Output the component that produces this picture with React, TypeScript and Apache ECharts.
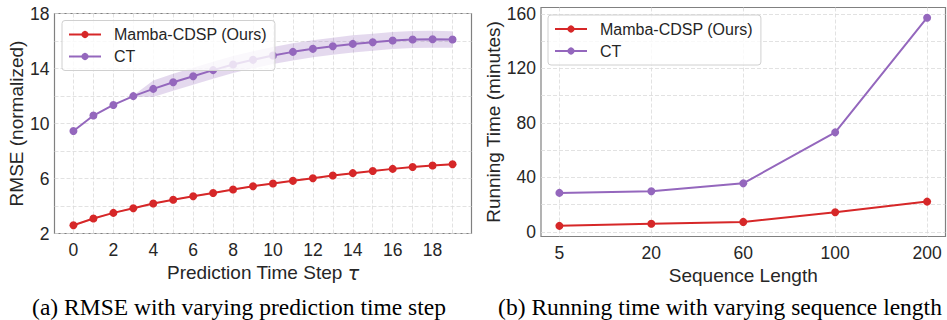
import React, { useEffect, useRef } from "react";
import * as echarts from "echarts";

// ---- Data ----
const steps = [0, 1, 2, 3, 4, 5, 6, 7, 8, 9, 10, 11, 12, 13, 14, 15, 16, 17, 18, 19];
const stepLabelTicks = [0, 2, 4, 6, 8, 10, 12, 14, 16, 18];
const rmseGridTicks = [2, 4, 6, 8, 10, 12, 14, 16, 18];
const rmseLabelTicks = [2, 6, 10, 14, 18];
const mambaRmse = [2.6, 3.09, 3.5, 3.84, 4.18, 4.45, 4.71, 4.95, 5.2, 5.44, 5.64, 5.83, 6.02, 6.22, 6.39, 6.55, 6.7, 6.84, 6.94, 7.04];
const mambaRmseStd = [0.05, 0.05, 0.05, 0.05, 0.05, 0.05, 0.05, 0.05, 0.05, 0.05, 0.05, 0.05, 0.05, 0.05, 0.05, 0.05, 0.05, 0.05, 0.05, 0.05];
const ctRmse = [9.46, 10.58, 11.35, 11.99, 12.52, 13.0, 13.44, 13.88, 14.29, 14.63, 14.95, 15.21, 15.43, 15.62, 15.79, 15.91, 16.04, 16.11, 16.13, 16.11];
const ctRmseStd = [0, 0, 0, 0.04, 0.6, 0.62, 0.62, 0.62, 0.62, 0.62, 0.62, 0.62, 0.62, 0.62, 0.62, 0.62, 0.62, 0.62, 0.62, 0.6];

const seqLengths = ["5", "20", "60", "100", "200"];
const seqIndex = [0, 1, 2, 3, 4];
const timeGridTicks = [0, 20, 40, 60, 80, 100, 120, 140, 160];
const timeLabelTicks = [0, 40, 80, 120, 160];
const mambaTime = [4.4, 5.9, 7.3, 14.4, 22.2];
const ctTime = [28.6, 29.8, 35.6, 73.0, 157.1];

const seriesNames = ["Mamba-CDSP (Ours)", "CT"];
const captions = ["(a) RMSE with varying prediction time step", "(b) Running time with varying sequence length"];

const RED = "#d62728";
const PURPLE = "#9467bd";
const SANS = '"Liberation Sans", Arial, sans-serif';
const TEXT = "#262626";
const CAPTION_FONT = '23.5px "Liberation Serif", "Times New Roman", serif';

function bandSeries(xAxisIndex: number, xs: number[], mean: number[], std: number[], fill: string) {
  return {
    type: "custom",
    xAxisIndex,
    yAxisIndex: xAxisIndex,
    silent: true,
    clip: true,
    z: 1,
    data: [[xs[0], mean[0]]],
    renderItem: (params: any, api: any) => {
      const upper = xs.map((x, i) => api.coord([x, mean[i] + std[i]]));
      const lower = xs.map((x, i) => api.coord([x, mean[i] - std[i]])).reverse();
      return {
        type: "polygon",
        shape: { points: upper.concat(lower) },
        style: { fill },
      };
    },
  };
}

const gridLine = { show: true, lineStyle: { color: "#dadada", width: 0.8, type: [4, 2] as any } };
const tickLabel = (margin: number) => ({ fontSize: 17.5, color: TEXT, fontFamily: SANS, margin });
const nameStyle = { fontSize: 19, color: TEXT, fontFamily: SANS };

function lineSeries(name: string, color: string, idx: number, data: number[][]) {
  return {
    type: "line",
    name,
    xAxisIndex: idx,
    yAxisIndex: idx,
    data,
    symbol: "circle",
    symbolSize: 8,
    z: 2,
    itemStyle: { color },
    lineStyle: { color, width: 2 },
  };
}

function legendAt(left: number, top: number) {
  return {
    data: seriesNames,
    orient: "vertical",
    left,
    top,
    padding: [5, 8, 5, 6],
    itemWidth: 32,
    itemHeight: 9,
    itemGap: 4,
    backgroundColor: "rgba(255,255,255,0.8)",
    borderColor: "#d0d0d0",
    borderWidth: 1,
    borderRadius: 3,
    textStyle: { fontSize: 16, color: TEXT, fontFamily: SANS, lineHeight: 18, padding: [0, 0, 0, 8] },
  };
}

export default function App() {
  const ref = useRef<HTMLDivElement>(null);
  useEffect(() => {
    if (!ref.current) return;
    const chart = echarts.init(ref.current, undefined, { renderer: "svg" });
    const option: any = {
      animation: false,
      backgroundColor: "#ffffff",
      grid: [
        { left: 54.5, top: 13.5, width: 417, height: 220, show: true, borderColor: "#808080", borderWidth: 1.2, containLabel: false },
        { left: 541, top: 7.5, width: 404.5, height: 229, show: true, borderColor: "#808080", borderWidth: 1.2, containLabel: false },
      ],
      legend: [legendAt(62, 20.5), legendAt(548, 15)],
      xAxis: [
        {
          type: "value",
          gridIndex: 0,
          min: -0.95,
          max: 19.95,
          axisLine: { show: false },
          axisTick: { show: false, customValues: steps },
          axisLabel: { ...tickLabel(7), customValues: stepLabelTicks },
          splitLine: gridLine,
          name: "Prediction Time Step {i|τ}",
          nameLocation: "middle",
          nameGap: 23,
          nameTextStyle: { ...nameStyle, rich: { i: { ...nameStyle, fontStyle: "italic", fontFamily: '"DejaVu Sans", sans-serif' } } },
        },
        {
          type: "value",
          gridIndex: 1,
          min: -0.2,
          max: 4.2,
          axisLine: { show: false },
          axisTick: { show: false, customValues: seqIndex },
          axisLabel: { ...tickLabel(7), customValues: seqIndex, formatter: (v: number) => seqLengths[Math.round(v)] },
          splitLine: gridLine,
          name: "Sequence Length",
          nameLocation: "middle",
          nameGap: 24,
          nameTextStyle: nameStyle,
        },
      ],
      yAxis: [
        {
          type: "value",
          gridIndex: 0,
          min: 2,
          max: 18,
          axisLine: { show: false },
          axisTick: { show: false, customValues: rmseGridTicks },
          axisLabel: { ...tickLabel(5), customValues: rmseLabelTicks },
          splitLine: gridLine,
          name: "RMSE (normalized)",
          nameLocation: "middle",
          nameGap: 27,
          nameTextStyle: nameStyle,
        },
        {
          type: "value",
          gridIndex: 1,
          min: -3.4,
          max: 164.6,
          axisLine: { show: false },
          axisTick: { show: false, customValues: timeGridTicks },
          axisLabel: { ...tickLabel(5), customValues: timeLabelTicks },
          splitLine: gridLine,
          name: "Running Time (minutes)",
          nameLocation: "middle",
          nameGap: 37,
          nameTextStyle: nameStyle,
        },
      ],
      series: [
        bandSeries(0, steps, mambaRmse, mambaRmseStd, "rgba(214,39,40,0.2)"),
        bandSeries(0, steps, ctRmse, ctRmseStd, "rgba(148,103,189,0.25)"),
        lineSeries(seriesNames[0], RED, 0, steps.map((s, i) => [s, mambaRmse[i]])),
        lineSeries(seriesNames[1], PURPLE, 0, steps.map((s, i) => [s, ctRmse[i]])),
        lineSeries(seriesNames[0], RED, 1, seqIndex.map((s, i) => [s, mambaTime[i]])),
        lineSeries(seriesNames[1], PURPLE, 1, seqIndex.map((s, i) => [s, ctTime[i]])),
      ],
      graphic: [
        {
          type: "text",
          x: 239,
          y: 307,
          style: { text: captions[0], font: CAPTION_FONT, fill: "#000", align: "center", verticalAlign: "middle" },
        },
        {
          type: "text",
          x: 720,
          y: 307,
          style: { text: captions[1], font: CAPTION_FONT, fill: "#000", align: "center", verticalAlign: "middle" },
        },
      ],
    };
    chart.setOption(option);
    return () => chart.dispose();
  }, []);
  return <div ref={ref} style={{ position: "fixed", left: 0, top: 0, width: 947, height: 320 }} />;
}
